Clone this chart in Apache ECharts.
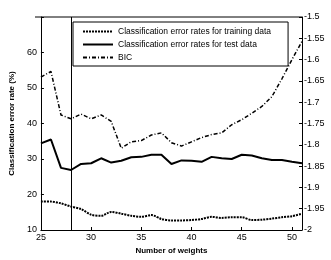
<!DOCTYPE html>
<html>
<head>
<meta charset="utf-8">
<script src="https://cdn.jsdelivr.net/npm/echarts@6/dist/echarts.min.js"></script>
<style>
  html, body { margin: 0; padding: 0; background: #fff; }
  #chart { width: 331px; height: 260px; }
</style>
</head>
<body>
<div id="chart"></div>
<script>
// number of weights
var weights = [25, 26, 27, 28, 29, 30, 31, 32, 33, 34, 35, 36, 37, 38, 39, 40, 41, 42, 43, 44, 45, 46, 47, 48, 49, 50, 51];
// error rates (%) - left axis
var trainErr = [18.0, 18.0, 17.5, 16.6, 15.9, 14.3, 14.0, 15.1, 14.6, 14.0, 13.7, 14.2, 13.1, 12.7, 12.7, 12.8, 13.1, 13.7, 13.4, 13.6, 13.6, 12.8, 12.9, 13.2, 13.6, 13.9, 14.6];
var testErr = [34.4, 35.5, 27.5, 26.9, 28.6, 28.8, 30.2, 29.0, 29.5, 30.5, 30.6, 31.2, 31.2, 28.6, 29.6, 29.5, 29.2, 30.6, 30.2, 30.0, 31.2, 31.0, 30.2, 29.7, 29.7, 29.2, 28.8];
// BIC - right axis
var bic = [-1.641, -1.628, -1.730, -1.739, -1.728, -1.739, -1.730, -1.745, -1.808, -1.793, -1.790, -1.777, -1.772, -1.795, -1.803, -1.793, -1.783, -1.776, -1.772, -1.753, -1.741, -1.726, -1.710, -1.687, -1.645, -1.600, -1.557];
var chosenWeights = 28;
var names = ['Classification error rates for training data', 'Classification error rates for test data', 'BIC'];

function pairs(vals) {
  return weights.map(function (w, i) { return [w, vals[i]]; });
}

var chart = echarts.init(document.getElementById('chart'));
var font = 'Liberation Sans, Arial, sans-serif';

var option = {
  animation: false,
  backgroundColor: '#fff',
  grid: { left: 35, right: 29, top: 17, bottom: 26 },
  legend: {
    orient: 'vertical',
    left: 73,
    top: 22,
    itemWidth: 30,
    itemHeight: 6,
    itemGap: 4,
    padding: [5, 17, 4, 9],
    borderColor: '#000',
    borderWidth: 1,
    backgroundColor: '#fff',
    itemStyle: { opacity: 0 },
    textStyle: { fontFamily: font, fontSize: 8.5, color: '#000' },
    data: names
  },
  xAxis: {
    type: 'value',
    min: 25,
    max: 51,
    interval: 5,
    name: 'Number of weights',
    nameLocation: 'middle',
    nameGap: 17,
    nameTextStyle: { fontFamily: font, fontSize: 8, fontWeight: 'bold', color: '#000' },
    axisLine: { show: true, onZero: false, lineStyle: { color: '#000', width: 1 } },
    axisTick: { inside: true, length: 3, lineStyle: { color: '#000' } },
    axisLabel: {
      fontFamily: font, fontSize: 9, color: '#000', margin: 3,
      formatter: function (v) { return v % 5 === 0 ? v : ''; }
    },
    splitLine: { show: false }
  },
  yAxis: [
    {
      type: 'value',
      min: 10,
      max: 70,
      interval: 10,
      name: 'Classification error rate (%)',
      nameLocation: 'middle',
      nameGap: 24,
      nameTextStyle: { fontFamily: font, fontSize: 8, fontWeight: 'bold', color: '#000' },
      axisLine: { show: true, lineStyle: { color: '#000', width: 1 } },
      axisTick: { inside: true, length: 3, lineStyle: { color: '#000' } },
      axisLabel: {
        fontFamily: font, fontSize: 9, color: '#000', margin: 4,
        formatter: function (v) { return v < 70 ? v : ''; }
      },
      splitLine: { show: false }
    },
    {
      type: 'value',
      min: -2,
      max: -1.5,
      interval: 0.05,
      position: 'right',
      axisLine: { show: true, lineStyle: { color: '#000', width: 1 } },
      axisTick: { inside: true, length: 3, lineStyle: { color: '#000' } },
      axisLabel: {
        fontFamily: font, fontSize: 9, color: '#000', margin: 2,
        formatter: function (v) { return String(parseFloat(v.toFixed(2))); }
      },
      splitLine: { show: false }
    }
  ],
  series: [
    {
      name: names[0],
      type: 'line',
      yAxisIndex: 0,
      symbol: 'none',
      smooth: 0.3,
      data: pairs(trainErr),
      lineStyle: { color: '#000', width: 2, type: [2, 1] },
      itemStyle: { color: '#000' }
    },
    {
      name: names[1],
      type: 'line',
      yAxisIndex: 0,
      symbol: 'none',
      data: pairs(testErr),
      lineStyle: { color: '#000', width: 2 },
      itemStyle: { color: '#000' },
      markLine: {
        silent: true,
        symbol: 'none',
        label: { show: false },
        lineStyle: { color: '#000', width: 1, type: 'solid' },
        data: [{ xAxis: chosenWeights }]
      }
    },
    {
      name: names[2],
      type: 'line',
      yAxisIndex: 1,
      symbol: 'none',
      data: pairs(bic),
      lineStyle: { color: '#000', width: 1.5, type: [4, 2, 1, 2] },
      itemStyle: { color: '#000' }
    }
  ],
  graphic: [
    {
      type: 'line',
      shape: { x1: 35, y1: 17, x2: 302, y2: 17 },
      style: { stroke: '#000', lineWidth: 1 }
    }
  ]
};

chart.setOption(option);
</script>
</body>
</html>
